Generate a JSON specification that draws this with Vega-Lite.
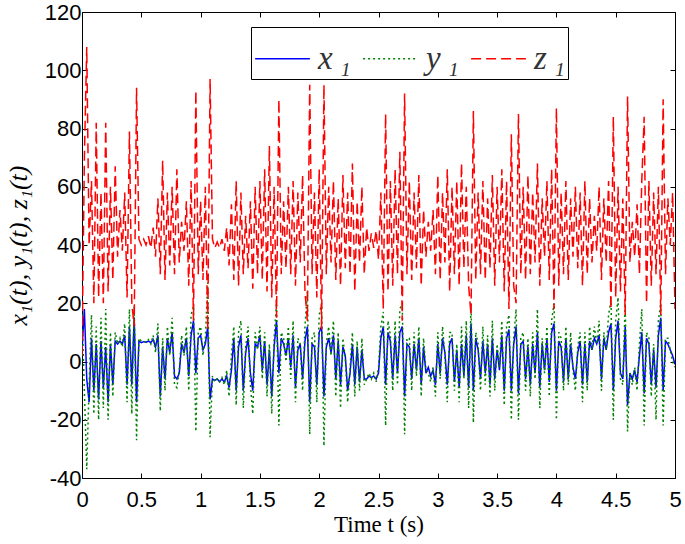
{
"$schema": "https://vega.github.io/schema/vega-lite/v6.json",
"width": 593, "height": 466,
"autosize": {"type": "none"},
"padding": {"left": 82, "top": 12, "right": 10, "bottom": 66},
"background": "white",
"config": {
  "view": {"stroke": "black", "strokeWidth": 1},
  "axis": {"grid": false, "domain": false, "tickColor": "black", "tickWidth": 1, "labelColor": "black", "labelFont": "Liberation Sans", "labelFontSize": 22, "titleColor": "black", "titleFont": "Liberation Serif", "titleFontSize": 23, "titleFontWeight": "normal"},
  "legend": {"fillColor": "white", "strokeColor": "black", "padding": 3, "symbolType": "stroke", "symbolSize": 3000, "symbolStrokeWidth": 1.5, "labelFont": "Liberation Serif", "labelFontStyle": "italic", "labelFontSize": 33, "labelColor": "#333333", "labelOffset": 7, "columnPadding": 9, "cornerRadius": 0, "labelLimit": 0}
},
"layer": [
{
"data": {"values": [
{"t":0,"x":4,"y":18,"z":2},{"t":0.02,"x":18,"y":-10,"z":70},{"t":0.04,"x":-6,"y":-37,"z":108},{"t":0.06,"x":-14,"y":-8,"z":40},{"t":0.08,"x":8,"y":16,"z":62},
{"t":0.1,"x":-10,"y":-18,"z":20},{"t":0.12,"x":6,"y":12,"z":82},{"t":0.14,"x":-13,"y":-20,"z":22},{"t":0.16,"x":7,"y":15,"z":58},{"t":0.18,"x":-9,"y":-16,"z":20},
{"t":0.2,"x":5,"y":18,"z":82},{"t":0.22,"x":-14,"y":-20,"z":24},{"t":0.24,"x":6,"y":10,"z":60},{"t":0.26,"x":-8,"y":-12,"z":28},{"t":0.28,"x":7,"y":10,"z":67},
{"t":0.3,"x":6,"y":6,"z":36},{"t":0.32,"x":7,"y":8,"z":52},{"t":0.34,"x":6,"y":5,"z":38},{"t":0.36,"x":9,"y":13,"z":58},{"t":0.38,"x":-8,"y":-14,"z":22},
{"t":0.4,"x":12,"y":18,"z":79},{"t":0.42,"x":-8,"y":-18,"z":20},{"t":0.44,"x":15,"y":19,"z":12},{"t":0.46,"x":-14,"y":-27,"z":94},{"t":0.48,"x":7,"y":8,"z":42},
{"t":0.5,"x":6.5,"y":7,"z":40},{"t":0.52,"x":6.8,"y":7,"z":42},{"t":0.54,"x":6.6,"y":6.5,"z":40},{"t":0.56,"x":7,"y":7.5,"z":43},{"t":0.58,"x":6.5,"y":6,"z":39},
{"t":0.6,"x":7.5,"y":9,"z":46},{"t":0.62,"x":5,"y":3,"z":36},{"t":0.64,"x":9,"y":13,"z":56},{"t":0.66,"x":-12,"y":-17,"z":30},{"t":0.68,"x":5,"y":8,"z":69},
{"t":0.7,"x":-6,"y":-10,"z":28},{"t":0.72,"x":8,"y":12,"z":58},{"t":0.74,"x":3,"y":2,"z":33},{"t":0.76,"x":10,"y":15,"z":60},{"t":0.78,"x":-5,"y":-8,"z":30},
{"t":0.8,"x":-6,"y":-9,"z":66},{"t":0.82,"x":-4,"y":-3,"z":34},{"t":0.84,"x":6,"y":9,"z":48},{"t":0.86,"x":3,"y":2,"z":38},{"t":0.88,"x":8,"y":12,"z":55},
{"t":0.9,"x":-5,"y":-10,"z":26},{"t":0.92,"x":9,"y":16,"z":62},{"t":0.94,"x":14,"y":19,"z":14},{"t":0.96,"x":-4,"y":-24,"z":93},{"t":0.98,"x":8,"y":10,"z":30},
{"t":1,"x":9,"y":12,"z":55},{"t":1.02,"x":4,"y":2,"z":28},{"t":1.04,"x":6,"y":8,"z":60},{"t":1.06,"x":12,"y":27,"z":11},{"t":1.08,"x":-13,"y":-26,"z":97},
{"t":1.1,"x":-6,"y":-5,"z":42},{"t":1.12,"x":-6.5,"y":-7,"z":39},{"t":1.14,"x":-6,"y":-6,"z":41},{"t":1.16,"x":-7,"y":-7,"z":39},{"t":1.18,"x":-6,"y":-5.5,"z":42},
{"t":1.2,"x":-7,"y":-8,"z":38},{"t":1.22,"x":-5,"y":-3,"z":46},{"t":1.24,"x":-9,"y":-12,"z":33},{"t":1.26,"x":-3,"y":2,"z":54},{"t":1.28,"x":8,"y":12,"z":28},
{"t":1.3,"x":-10,"y":-15,"z":62},{"t":1.32,"x":5,"y":10,"z":26},{"t":1.34,"x":9,"y":14,"z":58},{"t":1.36,"x":-10,"y":-16,"z":30},{"t":1.38,"x":3,"y":5,"z":50},
{"t":1.4,"x":8,"y":12,"z":32},{"t":1.42,"x":-4,"y":-8,"z":55},{"t":1.44,"x":-10,"y":-18,"z":25},{"t":1.46,"x":6,"y":10,"z":60},{"t":1.48,"x":5,"y":4,"z":30},
{"t":1.5,"x":9,"y":12,"z":62},{"t":1.52,"x":-3,"y":-6,"z":28},{"t":1.54,"x":7,"y":10,"z":66},{"t":1.56,"x":-8,"y":-12,"z":24},{"t":1.58,"x":4,"y":6,"z":74},
{"t":1.6,"x":-12,"y":-18,"z":22},{"t":1.62,"x":5,"y":8,"z":60},{"t":1.64,"x":14,"y":20,"z":15},{"t":1.66,"x":-4,"y":-22,"z":90},{"t":1.68,"x":8,"y":10,"z":30},
{"t":1.7,"x":6,"y":8,"z":55},{"t":1.72,"x":2,"y":0,"z":32},{"t":1.74,"x":8,"y":12,"z":60},{"t":1.76,"x":-2,"y":-6,"z":30},{"t":1.78,"x":9,"y":14,"z":62},
{"t":1.8,"x":-9,"y":-14,"z":26},{"t":1.82,"x":4,"y":8,"z":58},{"t":1.84,"x":6,"y":6,"z":34},{"t":1.86,"x":-6,"y":-10,"z":64},{"t":1.88,"x":7,"y":12,"z":24},
{"t":1.9,"x":12,"y":24,"z":14},{"t":1.92,"x":-14,"y":-25,"z":95},{"t":1.94,"x":6,"y":8,"z":30},{"t":1.96,"x":5,"y":10,"z":58},{"t":1.98,"x":-8,"y":-14,"z":22},
{"t":2,"x":10,"y":16,"z":66},{"t":2.02,"x":12,"y":20,"z":11},{"t":2.04,"x":-12,"y":-29,"z":95},{"t":2.06,"x":5,"y":6,"z":30},{"t":2.08,"x":8,"y":12,"z":60},
{"t":2.1,"x":3,"y":2,"z":34},{"t":2.12,"x":9,"y":14,"z":62},{"t":2.14,"x":-6,"y":-12,"z":28},{"t":2.16,"x":7,"y":10,"z":56},{"t":2.18,"x":-8,"y":-16,"z":26},
{"t":2.2,"x":5,"y":8,"z":64},{"t":2.22,"x":2,"y":1,"z":32},{"t":2.24,"x":-10,"y":-14,"z":58},{"t":2.26,"x":-4,"y":-2,"z":30},{"t":2.28,"x":6,"y":10,"z":68},
{"t":2.3,"x":-8,"y":-12,"z":24},{"t":2.32,"x":5,"y":7,"z":55},{"t":2.34,"x":-7,"y":-10,"z":34},{"t":2.36,"x":4,"y":8,"z":60},{"t":2.38,"x":-6,"y":-8,"z":30},
{"t":2.4,"x":-6,"y":-6,"z":46},{"t":2.42,"x":-5,"y":-4,"z":38},{"t":2.44,"x":-5.5,"y":-6,"z":44},{"t":2.46,"x":-5,"y":-4,"z":39},{"t":2.48,"x":-6,"y":-7,"z":45},
{"t":2.5,"x":-4,"y":-2,"z":35},{"t":2.52,"x":8,"y":12,"z":58},{"t":2.54,"x":12,"y":17,"z":18},{"t":2.56,"x":-8,"y":-22,"z":85},{"t":2.58,"x":10,"y":14,"z":24},
{"t":2.6,"x":7,"y":9,"z":62},{"t":2.62,"x":-6,"y":-10,"z":26},{"t":2.64,"x":9,"y":14,"z":66},{"t":2.66,"x":-4,"y":-8,"z":30},{"t":2.68,"x":10,"y":18,"z":72},
{"t":2.7,"x":12,"y":20,"z":14},{"t":2.72,"x":-12,"y":-25,"z":92},{"t":2.74,"x":6,"y":8,"z":30},{"t":2.76,"x":5,"y":8,"z":62},{"t":2.78,"x":-6,"y":-10,"z":28},
{"t":2.8,"x":6,"y":10,"z":58},{"t":2.82,"x":-3,"y":-5,"z":32},{"t":2.84,"x":8,"y":12,"z":64},{"t":2.86,"x":-8,"y":-12,"z":26},{"t":2.88,"x":5,"y":8,"z":52},
{"t":2.9,"x":-4,"y":-3,"z":36},{"t":2.92,"x":-2,"y":-4,"z":48},{"t":2.94,"x":-5,"y":-7,"z":38},{"t":2.96,"x":-3,"y":-2,"z":52},{"t":2.98,"x":-8,"y":-12,"z":30},
{"t":3,"x":6,"y":10,"z":64},{"t":3.02,"x":-4,"y":-6,"z":28},{"t":3.04,"x":8,"y":12,"z":58},{"t":3.06,"x":3,"y":2,"z":34},{"t":3.08,"x":-8,"y":-14,"z":66},
{"t":3.1,"x":6,"y":10,"z":24},{"t":3.12,"x":8,"y":10,"z":60},{"t":3.14,"x":-7,"y":-10,"z":30},{"t":3.16,"x":4,"y":6,"z":62},{"t":3.18,"x":-9,"y":-14,"z":26},
{"t":3.2,"x":6,"y":12,"z":68},{"t":3.22,"x":-5,"y":-6,"z":32},{"t":3.24,"x":9,"y":14,"z":60},{"t":3.26,"x":-9,"y":-16,"z":26},{"t":3.28,"x":13,"y":20,"z":16},
{"t":3.3,"x":-10,"y":-21,"z":86},{"t":3.32,"x":8,"y":10,"z":28},{"t":3.34,"x":4,"y":6,"z":58},{"t":3.36,"x":-6,"y":-10,"z":30},{"t":3.38,"x":7,"y":12,"z":62},
{"t":3.4,"x":-4,"y":-8,"z":28},{"t":3.42,"x":6,"y":9,"z":56},{"t":3.44,"x":-8,"y":-12,"z":32},{"t":3.46,"x":8,"y":14,"z":64},{"t":3.48,"x":-6,"y":-10,"z":26},
{"t":3.5,"x":4,"y":6,"z":60},{"t":3.52,"x":-3,"y":-2,"z":34},{"t":3.54,"x":9,"y":14,"z":66},{"t":3.56,"x":-10,"y":-15,"z":24},{"t":3.58,"x":8,"y":12,"z":62},
{"t":3.6,"x":11,"y":16,"z":18},{"t":3.62,"x":-10,"y":-20,"z":78},{"t":3.64,"x":6,"y":8,"z":26},{"t":3.66,"x":12,"y":18,"z":20},{"t":3.68,"x":-11,"y":-20,"z":85},
{"t":3.7,"x":6,"y":8,"z":30},{"t":3.72,"x":7,"y":10,"z":60},{"t":3.74,"x":-6,"y":-10,"z":28},{"t":3.76,"x":5,"y":8,"z":64},{"t":3.78,"x":-8,"y":-12,"z":30},
{"t":3.8,"x":6,"y":10,"z":58},{"t":3.82,"x":-4,"y":-6,"z":34},{"t":3.84,"x":10,"y":18,"z":68},{"t":3.86,"x":-9,"y":-16,"z":26},{"t":3.88,"x":6,"y":8,"z":56},
{"t":3.9,"x":-3,"y":-4,"z":36},{"t":3.92,"x":8,"y":12,"z":62},{"t":3.94,"x":-7,"y":-12,"z":28},{"t":3.96,"x":10,"y":14,"z":66},{"t":3.98,"x":13,"y":20,"z":18},
{"t":4,"x":-10,"y":-20,"z":87},{"t":4.02,"x":7,"y":10,"z":26},{"t":4.04,"x":5,"y":8,"z":58},{"t":4.06,"x":-7,"y":-10,"z":30},{"t":4.08,"x":8,"y":12,"z":62},
{"t":4.1,"x":-6,"y":-8,"z":28},{"t":4.12,"x":6,"y":10,"z":56},{"t":4.14,"x":-2,"y":-3,"z":36},{"t":4.16,"x":-6,"y":-10,"z":60},{"t":4.18,"x":3,"y":5,"z":32},
{"t":4.2,"x":7,"y":10,"z":58},{"t":4.22,"x":-8,"y":-14,"z":26},{"t":4.24,"x":6,"y":10,"z":62},{"t":4.26,"x":-7,"y":-10,"z":30},{"t":4.28,"x":7,"y":12,"z":56},
{"t":4.3,"x":4,"y":4,"z":34},{"t":4.32,"x":8,"y":12,"z":50},{"t":4.34,"x":6,"y":6,"z":38},{"t":4.36,"x":9,"y":14,"z":60},{"t":4.38,"x":-6,"y":-10,"z":28},
{"t":4.4,"x":8,"y":10,"z":56},{"t":4.42,"x":4,"y":4,"z":34},{"t":4.44,"x":10,"y":16,"z":62},{"t":4.46,"x":13,"y":21,"z":18},{"t":4.48,"x":-10,"y":-20,"z":84},
{"t":4.5,"x":8,"y":14,"z":22},{"t":4.52,"x":14,"y":22,"z":60},{"t":4.54,"x":-4,"y":-6,"z":24},{"t":4.56,"x":-6,"y":-8,"z":56},{"t":4.58,"x":12,"y":20,"z":16},
{"t":4.6,"x":-15,"y":-24,"z":91},{"t":4.62,"x":-4,"y":-4,"z":34},{"t":4.64,"x":-6,"y":-8,"z":48},{"t":4.66,"x":-3,"y":-2,"z":36},{"t":4.68,"x":-7,"y":-10,"z":54},
{"t":4.7,"x":2,"y":6,"z":30},{"t":4.72,"x":10,"y":18,"z":62},{"t":4.74,"x":-11,"y":-22,"z":84},{"t":4.76,"x":8,"y":10,"z":20},{"t":4.78,"x":6,"y":8,"z":62},
{"t":4.8,"x":-8,"y":-12,"z":26},{"t":4.82,"x":4,"y":6,"z":58},{"t":4.84,"x":-9,"y":-20,"z":30},{"t":4.86,"x":9,"y":14,"z":60},{"t":4.88,"x":15,"y":20,"z":16},
{"t":4.9,"x":-10,"y":-22,"z":90},{"t":4.92,"x":7,"y":8,"z":30},{"t":4.94,"x":6,"y":8,"z":56},{"t":4.96,"x":4,"y":4,"z":40},{"t":4.98,"x":2,"y":0,"z":58},
{"t":5,"x":-1,"y":-2,"z":18}
]},
"transform": [{"fold": ["x", "y", "z"], "as": ["s", "v"]}],
"mark": {"type": "line", "strokeWidth": 1.5, "clip": true},
"encoding": {
  "x": {"field": "t", "type": "quantitative", "scale": {"domain": [0, 5], "nice": false, "zero": false},
        "axis": {"values": [0, 0.5, 1, 1.5, 2, 2.5, 3, 3.5, 4, 4.5, 5], "format": "~g", "tickSize": -5, "labelPadding": 16, "labelFlush": false, "title": "Time t (s)", "titlePadding": 3}},
  "y": {"field": "v", "type": "quantitative", "scale": {"domain": [-40, 120], "nice": false},
        "axis": {"values": [-40, -20, 0, 20, 40, 60, 80, 100, 120], "labelExpr": "'' + datum.value", "tickSize": -5, "labelPadding": 6, "title": "x₁(t), y₁(t), z₁(t)", "titlePadding": 13, "titleFontSize": 26, "titleFontStyle": "italic"}},
  "color": {"field": "s", "type": "nominal", "scale": {"domain": ["x", "y", "z"], "range": ["#0000ff", "#008000", "#ff0000"]},
            "legend": {"orient": "none", "legendX": 169, "legendY": 15, "direction": "horizontal", "title": null, "labelExpr": "datum.label + '\u2009₁'"}},
  "strokeDash": {"field": "s", "type": "nominal", "scale": {"domain": ["x", "y", "z"], "range": [[1, 0], [2, 3], [10, 5]]},
            "legend": {"orient": "none", "legendX": 169, "legendY": 15, "direction": "horizontal", "title": null, "labelExpr": "datum.label + '\u2009₁'"}}
}
},
{
"data": {"values": [{"t": 0, "v": 0}]},
"mark": {"type": "point", "opacity": 0},
"encoding": {
  "x": {"field": "t", "type": "quantitative", "scale": {"domain": [0, 5], "nice": false, "zero": false},
        "axis": {"orient": "top", "values": [0, 0.5, 1, 1.5, 2, 2.5, 3, 3.5, 4, 4.5, 5], "labels": false, "tickSize": -5, "title": null}},
  "y": {"field": "v", "type": "quantitative", "scale": {"domain": [-40, 120], "nice": false},
        "axis": {"orient": "right", "values": [-40, -20, 0, 20, 40, 60, 80, 100, 120], "labels": false, "tickSize": -5, "title": null}}
}
}
],
"resolve": {"axis": {"x": "independent", "y": "independent"}}
}
